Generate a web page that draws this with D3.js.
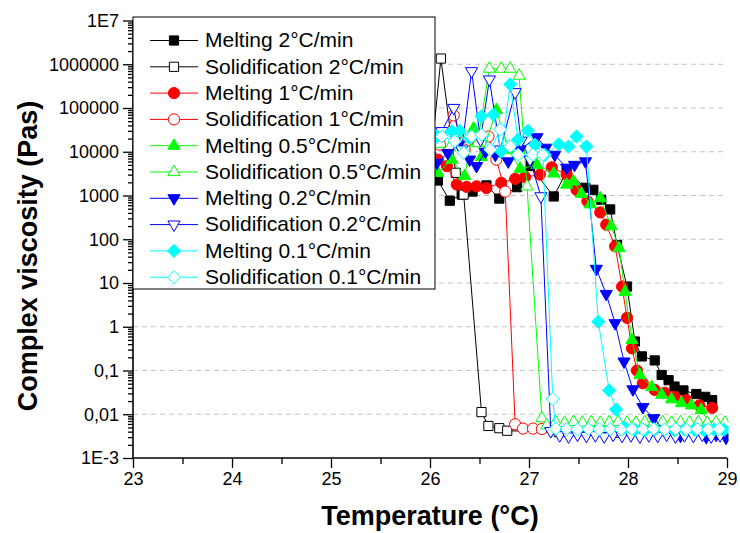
<!DOCTYPE html>
<html>
<head>
<meta charset="utf-8">
<script src="https://cdn.jsdelivr.net/npm/d3@7"></script>
<style>
  body { margin: 0; background: #fff; }
  svg { display: block; }
  text { font-family: "Liberation Sans", Arial, sans-serif; }
</style>
</head>
<body>
<svg id="chart" width="740" height="533"></svg>
<script>
// ---- data ----
const legendLabels = [
  "Melting 2°C/min", "Solidification 2°C/min",
  "Melting 1°C/min", "Solidification 1°C/min",
  "Melting 0.5°C/min", "Solidification 0.5°C/min",
  "Melting 0.2°C/min", "Solidification 0.2°C/min",
  "Melting 0.1°C/min", "Solidification 0.1°C/min"
];
const xTickValues = [23, 24, 25, 26, 27, 28, 29];
const yTickValues = [1e-3, 1e-2, 1e-1, 1, 10, 100, 1000, 1e4, 1e5, 1e6, 1e7];
const yTickLabels = ["1E-3", "0,01", "0,1", "1", "10", "100", "1000", "10000", "100000", "1000000", "1E7"];

const tempMelt2 = [25.6, 25.8, 25.95, 26.08, 26.20, 26.32, 26.43, 26.57, 26.70, 26.88, 27.01, 27.25, 27.38, 27.57, 27.65, 27.73, 27.82, 27.89, 27.99, 28.07, 28.14, 28.27, 28.34, 28.41, 28.47, 28.56, 28.69, 28.78, 28.85];
const viscMelt2 = [2500, 2000, 2800, 2200, 760, 1050, 1230, 1700, 850, 1550, 4700, 950, 3500, 1500, 1350, 800, 480, 74, 8.3, 0.46, 0.21, 0.17, 0.079, 0.060, 0.043, 0.035, 0.029, 0.025, 0.021];

const tempSolid2 = [25.6, 25.85, 26.0, 26.11, 26.26, 26.34, 26.52, 26.59, 26.70, 26.78, 27.3, 27.9, 28.5, 28.95];
const viscSolid2 = [3200, 2000, 4000, 1.35e6, 3300, 1050, 0.0112, 0.0054, 0.0048, 0.0042, 0.0039, 0.0038, 0.0039, 0.0038];

const tempMelt1 = [25.6, 25.85, 26.08, 26.17, 26.27, 26.37, 26.47, 26.57, 26.72, 26.86, 26.96, 27.11, 27.23, 27.38, 27.48, 27.59, 27.72, 27.78, 27.87, 27.94, 27.99, 28.04, 28.09, 28.15, 28.27, 28.37, 28.47, 28.59, 28.72, 28.85];
const viscMelt1 = [4000, 5000, 6600, 4700, 1780, 1580, 1620, 1480, 1950, 2400, 2630, 3000, 4400, 3000, 1350, 740, 410, 215, 69, 8.3, 1.6, 0.32, 0.10, 0.051, 0.036, 0.031, 0.025, 0.021, 0.016, 0.014];

const tempSolid1 = [25.6, 25.9, 26.10, 26.24, 26.35, 26.48, 26.59, 26.67, 26.76, 26.86, 26.94, 27.04, 27.13, 27.45, 27.85, 28.25, 28.65, 28.95];
const viscSolid1 = [6300, 10000, 14500, 67600, 11200, 19000, 22400, 6600, 1230, 0.0059, 0.0047, 0.0047, 0.0046, 0.0045, 0.0044, 0.0045, 0.0044, 0.0045];

const tempMelt05 = [25.6, 25.85, 26.08, 26.22, 26.35, 26.44, 26.52, 26.67, 26.79, 26.91, 27.08, 27.25, 27.38, 27.45, 27.53, 27.62, 27.72, 27.83, 27.91, 27.97, 28.04, 28.12, 28.24, 28.34, 28.44, 28.54, 28.64, 28.74, 28.85, 28.95];
const viscMelt05 = [2500, 4000, 3300, 6600, 2800, 34000, 7600, 91000, 11200, 4100, 5000, 3200, 1780, 2100, 1100, 630, 870, 200, 63, 6.3, 0.50, 0.079, 0.042, 0.028, 0.022, 0.018, 0.016, 0.0126, 0.0049, 0.0044];

const tempSolid05 = [25.7, 26.0, 26.2, 26.35, 26.48, 26.60, 26.72, 26.81, 26.90, 26.98, 27.13, 27.18, 27.27, 27.36, 27.45, 27.54, 27.63, 27.72, 27.81, 27.90, 27.99, 28.08, 28.17, 28.26, 28.35, 28.44, 28.53, 28.62, 28.71, 28.80, 28.89, 28.98];
const viscSolid05 = [10000, 12600, 12600, 20000, 15800, 794000, 794000, 794000, 550000, 1620, 0.0081, 0.0056, 0.0066, 0.0064, 0.0067, 0.0065, 0.0066, 0.0064, 0.0066, 0.0067, 0.0065, 0.0064, 0.0066, 0.0065, 0.0067, 0.0064, 0.0066, 0.0065, 0.0066, 0.0064, 0.0066, 0.0065];

const tempMelt02 = [25.6, 25.85, 26.07, 26.18, 26.29, 26.40, 26.47, 26.56, 26.66, 26.79, 26.91, 27.08, 27.17, 27.26, 27.38, 27.46, 27.57, 27.68, 27.78, 27.87, 27.96, 28.05, 28.15, 28.26, 28.39, 28.53, 28.66, 28.79, 28.89, 28.99];
const viscMelt02 = [4000, 6300, 5600, 9300, 14500, 6600, 4700, 10000, 8500, 6000, 11200, 21400, 12300, 8500, 4300, 5000, 6000, 21, 5.6, 1.2, 0.16, 0.037, 0.0145, 0.0081, 0.0037, 0.0032, 0.0035, 0.0030, 0.0034, 0.0029];

const tempSolid02 = [25.7, 26.0, 26.12, 26.24, 26.32, 26.42, 26.51, 26.60, 26.71, 26.86, 26.92, 27.01, 27.12, 27.22, 27.31, 27.40, 27.49, 27.58, 27.67, 27.76, 27.85, 27.94, 28.03, 28.12, 28.21, 28.30, 28.39, 28.48, 28.57, 28.66, 28.75, 28.84, 28.93];
const viscSolid02 = [6300, 7900, 29500, 100000, 11200, 692000, 19000, 447000, 11200, 229000, 17800, 6600, 955, 0.0041, 0.0033, 0.0031, 0.0034, 0.0032, 0.0033, 0.0031, 0.0034, 0.0032, 0.0033, 0.0031, 0.0033, 0.0032, 0.0034, 0.0031, 0.0033, 0.0032, 0.0034, 0.0031, 0.0033];

const tempMelt01 = [25.6, 25.85, 26.07, 26.22, 26.30, 26.40, 26.52, 26.64, 26.72, 26.81, 26.89, 26.99, 27.06, 27.16, 27.30, 27.40, 27.48, 27.58, 27.70, 27.81, 27.88, 27.97, 28.07, 28.17, 28.27, 28.37, 28.47, 28.57, 28.67, 28.77, 28.87, 28.97];
const viscMelt01 = [10000, 15800, 22400, 29500, 30200, 20900, 64600, 70800, 10200, 347000, 19000, 30200, 14500, 8500, 14800, 13200, 22400, 13200, 1.3, 0.035, 0.0129, 0.0049, 0.0044, 0.0043, 0.0045, 0.0044, 0.0043, 0.0045, 0.0044, 0.0043, 0.0045, 0.0044];

const tempSolid01 = [25.7, 26.0, 26.12, 26.25, 26.34, 26.42, 26.52, 26.61, 26.71, 26.81, 26.89, 27.04, 27.14, 27.24, 27.27, 27.38, 27.49, 27.60, 27.71, 27.82, 27.93, 28.04, 28.15, 28.26, 28.37, 28.48, 28.59, 28.70, 28.81, 28.92];
const viscSolid01 = [12600, 15800, 22400, 17400, 9500, 22400, 24500, 11200, 32400, 13200, 8500, 8500, 8500, 0.0224, 0.0047, 0.0046, 0.0045, 0.0046, 0.0045, 0.0046, 0.0045, 0.0046, 0.0045, 0.0046, 0.0045, 0.0046, 0.0045, 0.0046, 0.0045, 0.0046];

// ---- series styling ----
const seriesTemps = [tempMelt2, tempSolid2, tempMelt1, tempSolid1, tempMelt05, tempSolid05, tempMelt02, tempSolid02, tempMelt01, tempSolid01];
const seriesVisc  = [viscMelt2, viscSolid2, viscMelt1, viscSolid1, viscMelt05, viscSolid05, viscMelt02, viscSolid02, viscMelt01, viscSolid01];
const colors = ["#000000", "#000000", "#ff0000", "#ff0000", "#00ff00", "#00ff00", "#0000ff", "#0000ff", "#00ffff", "#00ffff"];
const shapes = ["square", "square", "circle", "circle", "up", "up", "down", "down", "diamond", "diamond"];

const series = legendLabels.map((label, i) => ({
  label,
  color: colors[i],
  shape: shapes[i],
  open: i % 2 === 1,
  points: seriesTemps[i].map((t, j) => ({ t, v: seriesVisc[i][j] }))
}));

function markerPath(shape) {
  switch (shape) {
    case "square": return "M-4.6,-4.6H4.6V4.6H-4.6Z";
    case "circle": return "M5.6,0A5.6,5.6 0 1,1 -5.6,0A5.6,5.6 0 1,1 5.6,0Z";
    case "up": return "M0,-6.9L6.1,3.6L-6.1,3.6Z";
    case "down": return "M0,6.9L6.1,-3.6L-6.1,-3.6Z";
    case "diamond": return "M0,-6.6L6.6,0L0,6.6L-6.6,0Z";
  }
}

// ---- layout ----
const svg = d3.select("#chart");
const plotLeft = 133, plotRight = 727, plotTop = 20.5, plotBottom = 458;

const x = d3.scaleLinear().domain([23, 29]).range([plotLeft, plotRight]);
const y = d3.scaleLog().domain([1e-3, 1e7]).range([plotBottom, plotTop]);

// horizontal dashed grid at each decade
svg.append("g")
  .selectAll("line")
  .data(yTickValues.filter(v => v > 1e-3 && v < 1e7))
  .join("line")
  .attr("x1", plotLeft).attr("x2", plotRight)
  .attr("y1", d => y(d)).attr("y2", d => y(d))
  .attr("stroke", "#c4c4c4")
  .attr("stroke-width", 1)
  .attr("stroke-dasharray", "5,4");

// data clipped to the plotting area
svg.append("clipPath").attr("id", "plotClip")
  .append("rect").attr("x", plotLeft).attr("y", 0).attr("width", plotRight - plotLeft + 1.5).attr("height", plotBottom);

const plot = svg.append("g").attr("clip-path", "url(#plotClip)");
const line = d3.line().x(d => x(d.t)).y(d => y(d.v));

series.forEach(s => {
  const g = plot.append("g");
  g.append("path")
    .datum(s.points)
    .attr("d", line)
    .attr("fill", "none")
    .attr("stroke", s.color)
    .attr("stroke-width", 1);
  g.selectAll("path.mk")
    .data(s.points)
    .join("path")
    .attr("class", "mk")
    .attr("d", markerPath(s.shape))
    .attr("transform", d => `translate(${x(d.t)},${y(d.v)})`)
    .attr("fill", s.open ? "#ffffff" : s.color)
    .attr("stroke", s.color)
    .attr("stroke-width", 1);
});

// ---- axes ----
const fontSize = "18px";

const xMajor = svg.append("g").attr("transform", `translate(0,${plotBottom})`)
  .call(d3.axisBottom(x).tickValues(xTickValues).tickSize(10).tickPadding(4).tickFormat(d3.format("d")));
const xMinor = svg.append("g").attr("transform", `translate(0,${plotBottom})`)
  .call(d3.axisBottom(x).tickValues(d3.range(23.5, 29, 1)).tickSize(6).tickFormat(""));
xMinor.select(".domain").remove();

const yMinorValues = [];
for (let e = -3; e < 7; e++) for (let k = 2; k <= 9; k++) yMinorValues.push(k * Math.pow(10, e));

const yMajor = svg.append("g").attr("transform", `translate(${plotLeft},0)`)
  .call(d3.axisLeft(y).tickValues(yTickValues).tickSize(10).tickPadding(4)
    .tickFormat((d, i) => yTickLabels[i]));
const yMinor = svg.append("g").attr("transform", `translate(${plotLeft},0)`)
  .call(d3.axisLeft(y).tickValues(yMinorValues).tickSize(5).tickFormat(""));
yMinor.select(".domain").remove();

[xMajor, xMinor, yMajor, yMinor].forEach(g => {
  g.selectAll("line").attr("stroke", "#000").attr("stroke-width", 1.3);
  g.selectAll(".domain").attr("stroke", "#000").attr("stroke-width", 1.6);
  g.selectAll("text").attr("font-size", fontSize).attr("fill", "#000")
    .style("font-family", '"Liberation Sans", Arial, sans-serif');
});
// plain axis lines without end caps
xMajor.select(".domain").attr("d", `M${plotLeft},0H${plotRight}`);
yMajor.select(".domain").attr("d", `M0,${plotBottom}V${plotTop}`);

// ---- axis titles ----
svg.append("text")
  .attr("x", 430).attr("y", 525)
  .attr("text-anchor", "middle")
  .attr("font-size", "27px").attr("font-weight", "bold")
  .text("Temperature (°C)");

svg.append("text")
  .attr("transform", "translate(37,256) rotate(-90)")
  .attr("text-anchor", "middle")
  .attr("font-size", "27px").attr("font-weight", "bold")
  .text("Complex viscosity (Pas)");

// ---- legend ----
const legend = svg.append("g");
legend.append("rect")
  .attr("x", plotLeft).attr("y", 17).attr("width", 302).attr("height", 272)
  .attr("fill", "#fff").attr("stroke", "#000").attr("stroke-width", 1);

series.forEach((s, i) => {
  const cy = 40.5 + i * 26.3;
  const row = legend.append("g");
  row.append("line")
    .attr("x1", 150).attr("x2", 198).attr("y1", cy).attr("y2", cy)
    .attr("stroke", s.color).attr("stroke-width", 1);
  row.append("path")
    .attr("d", markerPath(s.shape))
    .attr("transform", `translate(174,${cy})`)
    .attr("fill", s.open ? "#ffffff" : s.color)
    .attr("stroke", s.color).attr("stroke-width", 1);
  row.append("text")
    .attr("x", 205).attr("y", cy + 6.8)
    .attr("font-size", "21px").attr("fill", "#000")
    .text(s.label);
});
</script>
</body>
</html>
